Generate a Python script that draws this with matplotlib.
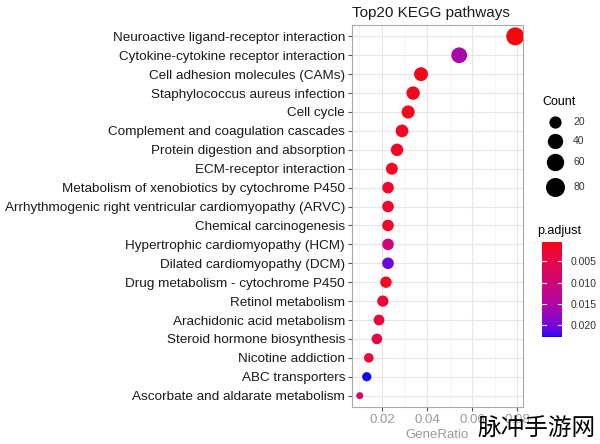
import numpy as np
import matplotlib
matplotlib.use("Agg")
import matplotlib.pyplot as plt
from matplotlib.colors import ListedColormap, Normalize
from matplotlib.lines import Line2D

plt.rcParams['font.family'] = ['Liberation Sans', 'DejaVu Sans']

pathways = [
    "Neuroactive ligand-receptor interaction",
    "Cytokine-cytokine receptor interaction",
    "Cell adhesion molecules (CAMs)",
    "Staphylococcus aureus infection",
    "Cell cycle",
    "Complement and coagulation cascades",
    "Protein digestion and absorption",
    "ECM-receptor interaction",
    "Metabolism of xenobiotics by cytochrome P450",
    "Arrhythmogenic right ventricular cardiomyopathy (ARVC)",
    "Chemical carcinogenesis",
    "Hypertrophic cardiomyopathy (HCM)",
    "Dilated cardiomyopathy (DCM)",
    "Drug metabolism - cytochrome P450",
    "Retinol metabolism",
    "Arachidonic acid metabolism",
    "Steroid hormone biosynthesis",
    "Nicotine addiction",
    "ABC transporters",
    "Ascorbate and aldarate metabolism",
]
gene_ratio = [0.0790, 0.0542, 0.0373, 0.0338, 0.0316, 0.0289, 0.0267, 0.0244,
              0.0227, 0.0227, 0.0227, 0.0227, 0.0227, 0.0218, 0.0204, 0.0187,
              0.0178, 0.0142, 0.0133, 0.0102]
counts = [85, 58, 40, 36, 34, 31, 29, 26, 24, 24, 24, 24, 24, 23, 22, 20, 19, 15, 14, 11]
p_adjust = [0.0005, 0.0155, 0.0010, 0.0012, 0.0012, 0.0015, 0.0018, 0.0015,
            0.0022, 0.0025, 0.0022, 0.0100, 0.0205, 0.0018, 0.0030, 0.0035,
            0.0045, 0.0030, 0.0227, 0.0080]
legend_counts = [20, 40, 60, 80]
cbar_ticks = [0.005, 0.010, 0.015, 0.020]
x_ticks = [0.02, 0.04, 0.06, 0.08]

# --- Lab interpolation red -> blue (ggplot scale_colour_gradient) ---
def srgb_to_lin(c):
    c = np.asarray(c, float)
    return np.where(c <= 0.04045, c / 12.92, ((c + 0.055) / 1.055) ** 2.4)

def lin_to_srgb(c):
    c = np.clip(c, 0, 1)
    return np.where(c <= 0.0031308, 12.92 * c, 1.055 * c ** (1 / 2.4) - 0.055)

M = np.array([[0.4124, 0.3576, 0.1805], [0.2126, 0.7152, 0.0722], [0.0193, 0.1192, 0.9505]])
Minv = np.linalg.inv(M)
wp = np.array([0.95047, 1.0, 1.08883])

def f(t):
    d = 6 / 29
    return np.where(t > d ** 3, np.cbrt(t), t / (3 * d * d) + 4 / 29)

def finv(t):
    d = 6 / 29
    return np.where(t > d, t ** 3, 3 * d * d * (t - 4 / 29))

def rgb2lab(rgb):
    xyz = M @ srgb_to_lin(rgb) / wp
    fx, fy, fz = f(xyz)
    return np.array([116 * fy - 16, 500 * (fx - fy), 200 * (fy - fz)])

def lab2rgb(lab):
    L, a, b = lab
    fy = (L + 16) / 116
    fx = fy + a / 500
    fz = fy - b / 200
    xyz = np.array([finv(fx), finv(fy), finv(fz)]) * wp
    return lin_to_srgb(Minv @ xyz)

lab_lo = rgb2lab([1, 0, 0])
lab_hi = rgb2lab([0, 0, 1])
cols = [lab2rgb(lab_lo + (lab_hi - lab_lo) * t) for t in np.linspace(0, 1, 256)]
cols = np.clip(cols, 0, 1)
# slight softening to match the reference rendering
cols = 0.9 * cols + 0.1 * np.array([0.6, 0.3, 0.5])
cmap = ListedColormap(np.clip(cols, 0, 1))
vmin, vmax = min(p_adjust), max(p_adjust)
norm = Normalize(vmin, vmax)

# --- size mapping (area scale) ---
cmin, cmax = min(counts), max(counts)
def diam_px(c):
    return 7 + 11 * np.sqrt((np.asarray(c, float) - cmin) / (cmax - cmin))

fig = plt.figure(figsize=(6, 4.44), dpi=100)
ax = fig.add_axes([352 / 600, 1 - 407 / 444, 171 / 600, 382 / 444])
ypos = np.arange(len(pathways))[::-1]
ax.scatter(gene_ratio, ypos, s=(diam_px(counts) * 0.72) ** 2, c=p_adjust, cmap=cmap, norm=norm,
           edgecolors='none', zorder=3)
ax.set_yticks(ypos)
ax.set_yticklabels(pathways, fontsize=9.7, color='#1a1a1a')
ax.set_ylim(-0.6, len(pathways) - 1 + 0.6)
rng = max(gene_ratio) - min(gene_ratio)
ax.set_xlim(min(gene_ratio) - 0.05 * rng, max(gene_ratio) + 0.05 * rng)
ax.set_xticks(x_ticks)
ax.set_xticklabels([f"{v:.2f}" for v in x_ticks], fontsize=9.5, color='#9a9a9a')
ax.set_xticks([0.01, 0.03, 0.05, 0.07], minor=True)
ax.grid(True, which='major', color='#e6e6e6', lw=0.8, zorder=0)
ax.grid(True, which='minor', color='#f2f2f2', lw=0.5, zorder=0)
ax.set_axisbelow(True)
for sp in ax.spines.values():
    sp.set_color('#aaaaaa')
    sp.set_linewidth(0.8)
ax.tick_params(axis='both', which='major', length=3, color='#555555', pad=2)
ax.tick_params(axis='x', which='minor', length=0)
ax.set_xlabel("GeneRatio", fontsize=9.5, color='#9a9a9a', labelpad=2)
ax.set_title("Top20 KEGG pathways", fontsize=11, loc='left', pad=6, color='#1a1a1a')

# --- Count legend ---
fig.text(542 / 600, 1 - 102 / 444, "Count", fontsize=9, va='center', ha='left')
leg_y = [122, 141, 162, 187]
for c, yy in zip(legend_counts, leg_y):
    fig.add_artist(Line2D([555 / 600], [1 - yy / 444], marker='o', markersize=diam_px(c) * 0.72,
                          color='black', lw=0, transform=fig.transFigure))
    fig.text(573 / 600, 1 - yy / 444, str(c), fontsize=7.5, va='center', ha='left', color='#333333')

# --- p.adjust colorbar ---
fig.text(537 / 600, 1 - 231 / 444, "p.adjust", fontsize=9, va='center', ha='left')
cax = fig.add_axes([542 / 600, 1 - 337 / 444, 20 / 600, 95 / 444])
grad = np.linspace(vmin, vmax, 256).reshape(-1, 1)
cax.imshow(grad, aspect='auto', cmap=cmap, norm=norm, origin='upper',
           extent=[0, 1, vmax, vmin])
cax.set_xlim(0, 1)
cax.set_ylim(vmax, vmin)
cax.set_xticks([])
cax.set_yticks(cbar_ticks)
cax.yaxis.tick_right()
cax.set_yticklabels([f"{t:.3f}" for t in cbar_ticks], fontsize=7.5, color='#333333')
cax.tick_params(axis='y', length=0, pad=6)
for t in cbar_ticks:
    cax.plot([0, 0.2], [t, t], color='white', lw=0.8)
    cax.plot([0.8, 1], [t, t], color='white', lw=0.8)
for sp in cax.spines.values():
    sp.set_visible(False)

# watermark (present in the reference image)
fig.text(477 / 600, 1 - 428 / 444, "脉冲手游网", fontsize=17,
         family=['Noto Sans CJK SC', 'DejaVu Sans'], va='center', ha='left', color='black')

fig.savefig("out.png", dpi=100)
